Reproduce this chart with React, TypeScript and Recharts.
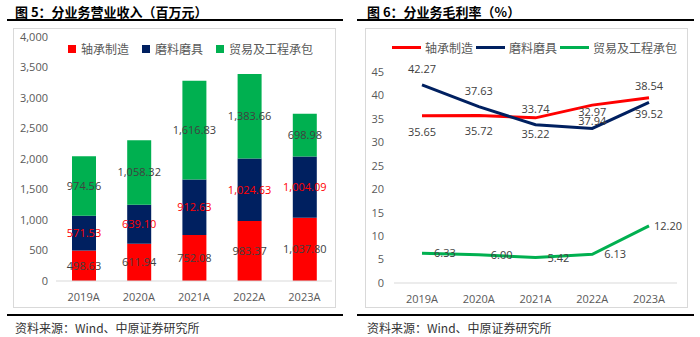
import React from 'react';
import { BarChart, Bar, LineChart, Line, XAxis, YAxis, Legend, LabelList } from 'recharts';

const years = ['2019A', '2020A', '2021A', '2022A', '2023A'];
const seriesNames = ['轴承制造', '磨料磨具', '贸易及工程承包'];

// 分业务营业收入（百万元）
const bearingRevenue = [498.63, 611.94, 752.08, 983.37, 1037.8];
const abrasiveRevenue = [571.53, 639.1, 912.63, 1024.63, 1004.09];
const tradeRevenue = [974.56, 1058.32, 1616.83, 1383.66, 698.98];
const revenueTicks = [0, 500, 1000, 1500, 2000, 2500, 3000, 3500, 4000];

// 分业务毛利率（%）
const bearingMargin = [35.65, 35.72, 35.22, 37.94, 39.52];
const abrasiveMargin = [42.27, 37.63, 33.74, 32.97, 38.54];
const tradeMargin = [6.33, 6.0, 5.42, 6.13, 12.2];
const marginTicks = [0, 5, 10, 15, 20, 25, 30, 35, 40, 45];

const RED = '#FF0000';
const NAVY = '#002060';
const GREEN = '#00B050';
const colors = [RED, NAVY, GREEN];

const revenueData = years.map((year, i) => ({
  year,
  bearing: bearingRevenue[i],
  abrasive: abrasiveRevenue[i],
  trade: tradeRevenue[i],
}));

const marginData = years.map((year, i) => ({
  year,
  bearing: bearingMargin[i],
  abrasive: abrasiveMargin[i],
  trade: tradeMargin[i],
}));

const tickFont = { fontFamily: 'Open Sans', fontSize: 11, fill: '#595959' };
const labelFont = { fontFamily: 'Open Sans', fontSize: 11 };
const cjk = '"Noto Sans CJK SC", sans-serif';

const fmtMoney = (v: any) =>
  Number(v).toLocaleString('en-US', { minimumFractionDigits: 2, maximumFractionDigits: 2 });
const fmtPct = (v: any) => Number(v).toFixed(2);

function SquareLegend() {
  return (
    <div style={{ display: 'flex', alignItems: 'center', fontFamily: cjk, fontSize: 12, color: '#595959' }}>
      {seriesNames.map((name, i) => (
        <div key={name} style={{ display: 'flex', alignItems: 'center', marginRight: 13 }}>
          <span style={{ width: 8, height: 8, background: colors[i], marginRight: 5 }} />
          <span>{name}</span>
        </div>
      ))}
    </div>
  );
}

function LineLegend() {
  return (
    <div style={{ display: 'flex', alignItems: 'center', fontFamily: cjk, fontSize: 12, color: '#595959' }}>
      {seriesNames.map((name, i) => (
        <div key={name} style={{ display: 'flex', alignItems: 'center', marginRight: 3 }}>
          <span style={{ width: 29, height: 3, background: colors[i], marginRight: 4 }} />
          <span>{name}</span>
        </div>
      ))}
    </div>
  );
}

// green labels sit to the right of the point, last one tucked closer
const tradeLabel = (props: any) => {
  const { x, y, value, index } = props;
  const dx = index === years.length - 1 ? 5 : 12;
  return (
    <text x={x + dx} y={y} dy={4} textAnchor="start" {...labelFont} fill="#404040">
      {fmtPct(value)}
    </text>
  );
};

function Panel({ left, lineLeft, lineRight, title, children }: any) {
  return (
    <>
      <div
        style={{
          position: 'absolute', left: left, top: 2, fontFamily: cjk, fontSize: 13,
          fontWeight: 700, color: '#000', whiteSpace: 'nowrap',
        }}
      >
        {title}
      </div>
      <div style={{ position: 'absolute', left: lineLeft, top: 19, width: lineRight - lineLeft, height: 2, background: '#000' }} />
      {children}
      <div style={{ position: 'absolute', left: lineLeft, top: 314, width: lineRight - lineLeft, height: 2, background: '#000' }} />
      <div
        style={{
          position: 'absolute', left: left, top: 319, fontFamily: cjk, fontSize: 12,
          color: '#333', whiteSpace: 'nowrap',
        }}
      >
        资料来源：Wind、中原证券研究所
      </div>
    </>
  );
}

export default function App() {
  return (
    <div style={{ position: 'absolute', left: 0, top: 0, width: 700, height: 337, background: '#fff', overflow: 'hidden' }}>
      <Panel left={15} lineLeft={7} lineRight={343} title="图 5：分业务营业收入（百万元）">
        <div style={{ position: 'absolute', left: 13, top: 28, width: 321, height: 278, border: '1px solid #D9D9D9' }}>
          <BarChart width={321} height={278} data={revenueData} margin={{ top: 8, right: 3, bottom: 6, left: 0 }}>
            <XAxis dataKey="year" axisLine={{ stroke: '#D9D9D9' }} tickLine={false} tick={tickFont} height={20} tickMargin={6} />
            <YAxis
              width={42}
              domain={[0, 4000]}
              ticks={revenueTicks}
              axisLine={false}
              tickLine={false}
              tick={tickFont}
              tickFormatter={(v: number) => v.toLocaleString('en-US')}
            />
            <Legend
              layout="horizontal"
              verticalAlign="middle"
              align="center"
              wrapperStyle={{ position: 'absolute', top: 11, left: 54, width: 'auto' }}
              content={<SquareLegend />}
            />
            <Bar dataKey="bearing" name={seriesNames[0]} stackId="a" fill={RED} barSize={24} isAnimationActive={false}>
              <LabelList dataKey="bearing" position="center" formatter={fmtMoney} {...labelFont} fill="#404040" />
            </Bar>
            <Bar dataKey="abrasive" name={seriesNames[1]} stackId="a" fill={NAVY} barSize={24} isAnimationActive={false}>
              <LabelList dataKey="abrasive" position="center" formatter={fmtMoney} {...labelFont} fill={RED} />
            </Bar>
            <Bar dataKey="trade" name={seriesNames[2]} stackId="a" fill={GREEN} barSize={24} isAnimationActive={false}>
              <LabelList dataKey="trade" position="center" formatter={fmtMoney} {...labelFont} fill="#404040" />
            </Bar>
          </BarChart>
        </div>
      </Panel>

      <Panel left={367} lineLeft={357} lineRight={694} title="图 6：分业务毛利率（%）">
        <div style={{ position: 'absolute', left: 365, top: 28, width: 321, height: 278, border: '1px solid #D9D9D9' }}>
          <LineChart width={321} height={278} data={marginData} margin={{ top: 43, right: 10, bottom: 4, left: 0 }}>
            <XAxis
              dataKey="year"
              axisLine={{ stroke: '#D9D9D9' }}
              tickLine={false}
              tick={tickFont}
              height={20}
              tickMargin={6}
              padding={{ left: 28, right: 28 }}
            />
            <YAxis width={28} domain={[0, 45]} ticks={marginTicks} axisLine={false} tickLine={false} tick={tickFont} tickMargin={4} />
            <Legend
              layout="horizontal"
              verticalAlign="middle"
              align="center"
              wrapperStyle={{ position: 'absolute', top: 10, left: 26, width: 'auto' }}
              content={<LineLegend />}
            />
            <Line dataKey="bearing" name={seriesNames[0]} stroke={RED} strokeWidth={3} dot={false} isAnimationActive={false}>
              <LabelList dataKey="bearing" position="bottom" offset={12} formatter={fmtPct} {...labelFont} fill="#404040" />
            </Line>
            <Line dataKey="abrasive" name={seriesNames[1]} stroke={NAVY} strokeWidth={3} dot={false} isAnimationActive={false}>
              <LabelList dataKey="abrasive" position="top" offset={12} formatter={fmtPct} {...labelFont} fill="#404040" />
            </Line>
            <Line dataKey="trade" name={seriesNames[2]} stroke={GREEN} strokeWidth={3} dot={false} isAnimationActive={false}>
              <LabelList dataKey="trade" content={tradeLabel} />
            </Line>
          </LineChart>
        </div>
      </Panel>
    </div>
  );
}
